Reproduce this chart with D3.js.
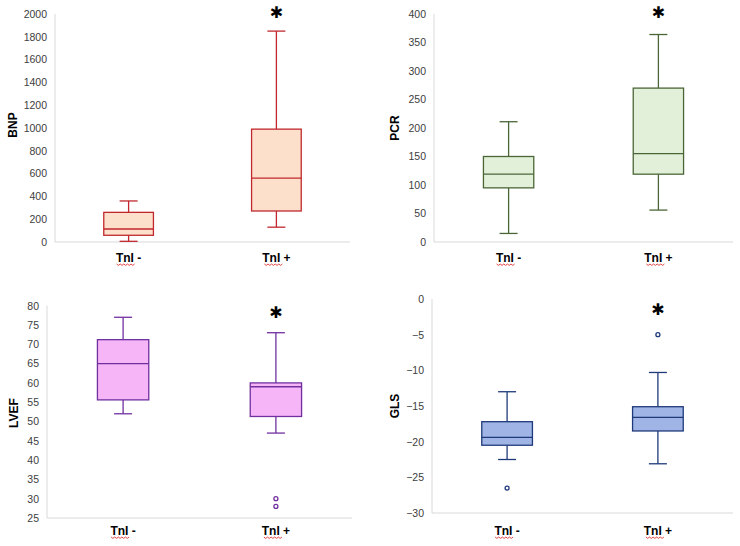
<!DOCTYPE html>
<html><head><meta charset="utf-8">
<script src="https://cdn.jsdelivr.net/npm/d3@7"></script>
<style>
html,body{margin:0;padding:0;background:#fff;}
svg{display:block;font-family:"Liberation Sans",Arial,sans-serif;}
</style></head>
<body><svg id="c" width="740" height="546"></svg>
<script>
// ---- Data ----
const groups = ["TnI -", "TnI +"];
const bnpStats = [ {min:6, q1:59, median:114, q3:260, max:360, outliers:[]},
                   {min:130, q1:272, median:560, q3:990, max:1850, outliers:[]} ];
const pcrStats = [ {min:15, q1:95, median:119, q3:150, max:211, outliers:[]},
                   {min:56, q1:119, median:155, q3:270, max:364, outliers:[]} ];
const lvefStats = [ {min:52, q1:55.6, median:65, q3:71.2, max:77, outliers:[]},
                    {min:47, q1:51.3, median:59, q3:60, max:73, outliers:[30, 28]} ];
const glsStats = [ {min:-22.5, q1:-20.5, median:-19.4, q3:-17.2, max:-13, outliers:[-26.5]},
                   {min:-23.1, q1:-18.5, median:-16.6, q3:-15.1, max:-10.3, outliers:[-5]} ];
const bnpTicks = [0,200,400,600,800,1000,1200,1400,1600,1800,2000];
const pcrTicks = [0,50,100,150,200,250,300,350,400];
const lvefTicks = [25,30,35,40,45,50,55,60,65,70,75,80];
const glsTicks = [-30,-25,-20,-15,-10,-5,0];
const significant = [false, true];

// ---- Panels (layout/style) ----
const panels = [
  {label:"BNP", stats:bnpStats, ticks:bnpTicks, x0:55, x1:350, yTop:14, yBot:242, labX:13, labY:125, catY:258, fill:"#fde0cc", stroke:"#c0282d", starY:12},
  {label:"PCR", stats:pcrStats, ticks:pcrTicks, x0:434, x1:733, yTop:14, yBot:242, labX:395, labY:128, catY:258, fill:"#e2f0d9", stroke:"#4a6637", starY:12},
  {label:"LVEF", stats:lvefStats, ticks:lvefTicks, x0:47, x1:352, yTop:305.7, yBot:518, labX:14, labY:413, catY:531, fill:"#f6b5f6", stroke:"#7030a0", starY:312},
  {label:"GLS", stats:glsStats, ticks:glsTicks, x0:432, x1:733, yTop:299, yBot:513, labX:395, labY:406, catY:531, fill:"#a0b5e6", stroke:"#1f3a7a", starY:309}
];

const svg = d3.select("#c");

panels.forEach(p => {
  const g = svg.append("g");
  const ext = d3.extent(p.ticks);
  const y = d3.scaleLinear().domain(ext).range([p.yBot, p.yTop]);
  const x = d3.scaleBand().domain(groups).range([p.x0, p.x1]).paddingInner(0.664).paddingOuter(0.33);

  // axes lines
  g.append("line").attr("x1", p.x0).attr("x2", p.x0).attr("y1", p.yTop).attr("y2", p.yBot)
    .attr("stroke", "#d9d9d9").attr("stroke-width", 1);
  g.append("line").attr("x1", p.x0).attr("x2", p.x1).attr("y1", p.yBot).attr("y2", p.yBot)
    .attr("stroke", "#d9d9d9").attr("stroke-width", 1);

  // y axis tick labels
  const yAxis = d3.axisLeft(y).tickValues(p.ticks).tickSize(0).tickPadding(8).tickFormat(d3.format("d"));
  const ya = g.append("g").attr("transform", `translate(${p.x0},0)`).call(yAxis);
  ya.select(".domain").remove();
  ya.selectAll("text").attr("font-size", 10.5).attr("fill", "#404040").attr("font-family", "'Liberation Sans',Arial,sans-serif");

  // x axis category labels
  const xAxis = d3.axisBottom(x).tickSize(0).tickPadding(0);
  const xa = g.append("g").attr("transform", `translate(0,${p.catY})`).call(xAxis);
  xa.select(".domain").remove();
  xa.selectAll("text").attr("font-size", 12).attr("font-weight", "bold").attr("fill", "#000")
    .attr("dy", "0.35em").attr("y", 0).attr("font-family", "'Liberation Sans',Arial,sans-serif");
  // spell-check squiggle under "TnI"
  groups.forEach(gr => {
    const cx = x(gr) + x.bandwidth() / 2;
    const sx = cx - 12, ey = p.catY + 6;
    let dd = `M${sx},${ey}`;
    for (let i = 1; i <= 10; i++) dd += `L${sx + i * 1.8},${ey + (i % 2 ? 1.4 : 0)}`;
    g.append("path").attr("d", dd).attr("fill", "none").attr("stroke", "#e03030").attr("stroke-width", 0.9);
  });

  // y label
  g.append("text").attr("transform", `translate(${p.labX + 4},${p.labY}) rotate(-90)`)
    .attr("text-anchor", "middle").attr("font-size", 12).attr("font-weight", "bold").attr("fill", "#000")
    .text(p.label);

  // boxes
  p.stats.forEach((s, i) => {
    const gr = groups[i];
    const bx = x(gr), bw = x.bandwidth(), cx = bx + bw / 2;
    const cap = 9;
    const bg = g.append("g").attr("stroke", p.stroke).attr("stroke-width", 1.3).attr("fill", "none");
    bg.append("line").attr("x1", cx).attr("x2", cx).attr("y1", y(s.max)).attr("y2", y(s.q3));
    bg.append("line").attr("x1", cx).attr("x2", cx).attr("y1", y(s.q1)).attr("y2", y(s.min));
    bg.append("line").attr("x1", cx - cap).attr("x2", cx + cap).attr("y1", y(s.max)).attr("y2", y(s.max));
    bg.append("line").attr("x1", cx - cap).attr("x2", cx + cap).attr("y1", y(s.min)).attr("y2", y(s.min));
    bg.append("rect").attr("x", bx).attr("width", bw).attr("y", y(s.q3)).attr("height", y(s.q1) - y(s.q3))
      .attr("fill", p.fill);
    bg.append("line").attr("x1", bx).attr("x2", bx + bw).attr("y1", y(s.median)).attr("y2", y(s.median));
    s.outliers.forEach(o => {
      bg.append("circle").attr("cx", cx).attr("cy", y(o)).attr("r", 2).attr("fill", "#fff");
    });
    if (significant[i]) {
      g.append("text").attr("x", cx).attr("y", p.starY).attr("text-anchor", "middle")
        .attr("dominant-baseline", "central").attr("font-size", 16).attr("font-weight", "bold")
        .attr("font-family", "'DejaVu Sans',sans-serif").attr("fill", "#000").text("\u2731");
    }
  });
});
</script></body></html>
